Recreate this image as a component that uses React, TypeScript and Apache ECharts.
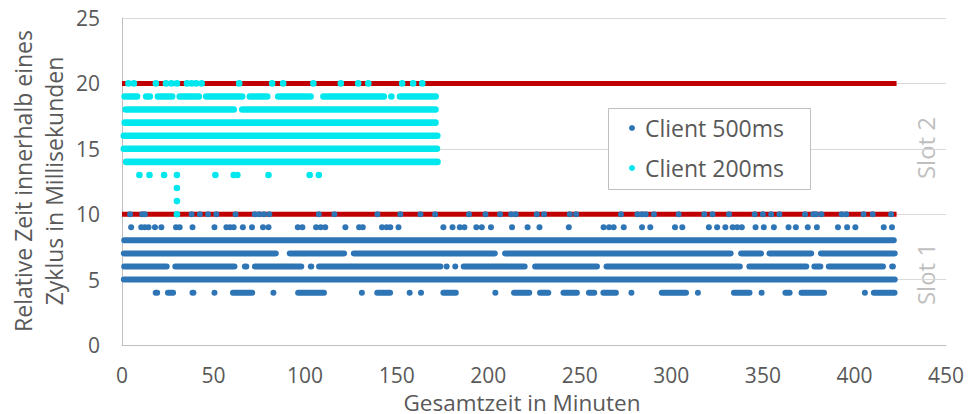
import { useEffect, useRef } from "react";
import * as echarts from "echarts";

// Runs of measurements per millisecond row: [first minute, last minute].
// A single measurement is a run whose start equals its end.
type Run = [number, number];

const FONT = "'Open Sans', 'Noto Sans', sans-serif";
const TEXT = "#595959";

// Client 500ms (slot 1)
const c500Row4: Run[] = [
  [18.4, 19.2], [25.1, 27.9], [38.5, 39], [50.5, 50.5], [60.6, 71.1], [82.7, 82.7],
  [96.2, 110.3], [131, 131], [139.4, 146.4], [157.1, 157.1], [163.3, 163.3], [175.5, 182.3],
  [203.9, 203.9], [214.1, 222.4], [228.3, 232.8], [241.1, 248.4], [255, 257.9], [262.9, 269.7],
  [278.2, 278.2], [294.8, 308], [314.5, 314.5], [334.2, 342.7], [349.3, 349.3], [362.3, 364.6],
  [371.1, 383.4], [405.7, 405.7], [410.6, 421.9],
];
const c500Row5: Run[] = [[1, 422]];
const c500Row6: Run[] = [
  [1.2, 24.4], [29.1, 61.4], [67.1, 67.9], [72.6, 97.9], [103.1, 103.4], [107.6, 173.9],
  [177.3, 177.3], [182, 182], [186.6, 219.9], [225.6, 259.4], [264.6, 337.4], [342.6, 373.7],
  [378.1, 381.4], [386, 415.6], [420.6, 421],
];
const c500Row7: Run[] = [
  [1, 84], [91.6, 121.3], [126.6, 203.6], [209.2, 332.4], [338.1, 349], [353.6, 376.4], [381.7, 422],
];
const c500Row8: Run[] = [[1.2, 421.5]];
const c500Row9: number[] = [
  5, 10.5, 12.5, 14.5, 18, 21.5, 29.5, 31.5, 38.5, 50.5, 57, 59, 61, 66, 71, 77, 80, 96, 98.5,
  106, 108.5, 111, 122, 129.5, 131.5, 142, 144.5, 146.5, 151, 175.5, 180.5, 184.5, 187, 193.5,
  196.5, 201.5, 213, 221.5, 228, 244, 263, 266, 268.5, 274, 284, 288.5, 302, 306, 320.5, 325,
  329.5, 333.5, 336, 338.5, 346, 350.5, 356, 364, 368, 374.5, 379.5, 391, 396, 400.5, 416, 420.5,
];
const c500Row10: number[] = [
  4.4, 11, 12.5, 38, 42.5, 47, 51.5, 62, 72.5, 75, 77.5, 80.5, 107.5, 116, 139.5, 152, 163, 171,
  189.5, 198.5, 206.5, 212.5, 215, 226.5, 230.5, 244.5, 248, 272.5, 281.5, 284, 286, 290.5, 304,
  318, 322.5, 331.5, 345.5, 350, 354.5, 359, 373, 377.5, 379, 382, 393, 395.5, 405, 410, 420,
];

// Client 200ms (slot 2)
const c200Row10: number[] = [30];
const c200Row11: number[] = [30];
const c200Row12: number[] = [30];
const c200Row13: number[] = [9.5, 15, 23, 30, 51, 61, 63, 80, 102.5, 107.5];
const c200Row14: Run[] = [[2.3, 172.3]];
const c200Row15: Run[] = [[1, 172]];
const c200Row16: Run[] = [[1, 172.2]];
const c200Row17: Run[] = [[1.5, 171.2]];
const c200Row18: Run[] = [[2, 61], [65.7, 171.2]];
const c200Row19: Run[] = [
  [1.4, 8.2], [13.2, 15.2], [19.6, 27.4], [31.5, 42], [46, 65.6], [69.8, 79.3], [85.3, 103],
  [110, 143], [147.1, 147.1], [151.8, 171.3],
];
const c200Row20: number[] = [
  3.5, 6.5, 18.5, 24, 27, 30, 35.5, 38, 40.5, 43.5, 64, 82, 88, 104.5, 119.5, 129, 134.5, 153, 159, 164,
];

// Slot boundaries (ms) and the time span they are drawn over (minutes)
const slotLimits = [10, 20];
const slotSpan: [number, number] = [0, 423];

const runs = (y: number, r: Run[]) => r.map(([a, b]) => [a, b, y]);
const dots = (y: number, xs: number[]) => xs.map((x) => [x, x, y]);

const client500Data = [
  ...runs(4, c500Row4), ...runs(5, c500Row5), ...runs(6, c500Row6), ...runs(7, c500Row7),
  ...runs(8, c500Row8), ...dots(9, c500Row9), ...dots(10, c500Row10),
];
const client200Data = [
  ...dots(10, c200Row10), ...dots(11, c200Row11), ...dots(12, c200Row12), ...dots(13, c200Row13),
  ...runs(14, c200Row14), ...runs(15, c200Row15), ...runs(16, c200Row16), ...runs(17, c200Row17),
  ...runs(18, c200Row18), ...runs(19, c200Row19), ...dots(20, c200Row20),
];

// Each run is a capsule of marker diameter, from its first to its last point.
const capsule = (radius: number) => (_params: any, api: any) => {
  const y = api.value(2);
  const p1 = api.coord([api.value(0), y]);
  const p2 = api.coord([api.value(1), y]);
  return {
    type: "rect",
    shape: {
      x: p1[0] - radius,
      y: p1[1] - radius,
      width: p2[0] - p1[0] + 2 * radius,
      height: 2 * radius,
      r: radius,
    },
    style: { fill: api.visual("color") },
  };
};

export default function App() {
  const ref = useRef<HTMLDivElement>(null);

  useEffect(() => {
    if (!ref.current) return;
    const chart = echarts.init(ref.current, undefined, { renderer: "svg" });

    const limitSeries = slotLimits.map((y) => ({
      type: "line",
      name: `limit${y}`,
      data: [[slotSpan[0], y], [slotSpan[1], y]],
      symbol: "none",
      silent: true,
      lineStyle: { color: "#C00000", width: 5 },
      z: 2,
    }));

    chart.setOption({
      animation: false,
      backgroundColor: "#ffffff",
      textStyle: { fontFamily: FONT },
      grid: { left: 122, right: 22, top: 18, bottom: 69 },
      xAxis: {
        type: "value",
        min: 0,
        max: 450,
        interval: 50,
        axisLine: { show: true, lineStyle: { color: "#bfbfbf", width: 1 } },
        axisTick: { show: false },
        splitLine: { show: false },
        axisLabel: { fontSize: 21, color: TEXT, fontFamily: FONT, margin: 19, lineHeight: 22 },
      },
      yAxis: {
        type: "value",
        min: 0,
        max: 25,
        interval: 5,
        axisLine: { show: true, lineStyle: { color: "#bfbfbf", width: 1 } },
        axisTick: { show: false },
        splitLine: { show: true, lineStyle: { color: "#d9d9d9", width: 1 } },
        axisLabel: { fontSize: 21, color: TEXT, fontFamily: FONT, margin: 22 },
      },
      legend: {
        data: [
          { name: "Client 500ms", icon: "circle" },
          { name: "Client 200ms", icon: "circle" },
        ],
        orient: "vertical",
        left: 629,
        top: 116,
        padding: 0,
        itemWidth: 16,
        itemHeight: 6,
        itemGap: 16,
        textStyle: { fontSize: 23, color: TEXT, fontFamily: FONT, lineHeight: 24 },
        z: 10,
      },
      graphic: [
        {
          type: "rect",
          shape: { x: 608.5, y: 108.5, width: 202, height: 81 },
          style: { fill: "#ffffff", stroke: "#bfbfbf", lineWidth: 1 },
          z: 5,
        },
        {
          type: "text",
          x: 38,
          y: 181,
          rotation: Math.PI / 2,
          style: {
            text: "Relative Zeit innerhalb eines\nZyklus in Millisekunden",
            fontSize: 23,
            fontFamily: FONT,
            fill: TEXT,
            align: "center",
            verticalAlign: "middle",
            lineHeight: 31,
          },
        },
        {
          type: "text",
          x: 522,
          y: 402,
          style: {
            text: "Gesamtzeit in Minuten",
            fontSize: 22.5,
            lineHeight: 22,
            fontFamily: FONT,
            fill: TEXT,
            align: "center",
            verticalAlign: "middle",
          },
        },
        {
          type: "text",
          x: 925,
          y: 148,
          rotation: Math.PI / 2,
          style: {
            text: "Slot 2",
            fontSize: 24,
            fontFamily: FONT,
            fill: "#bfbfbf",
            align: "center",
            verticalAlign: "middle",
          },
        },
        {
          type: "text",
          x: 925,
          y: 274,
          rotation: Math.PI / 2,
          style: {
            text: "Slot 1",
            fontSize: 24,
            fontFamily: FONT,
            fill: "#bfbfbf",
            align: "center",
            verticalAlign: "middle",
          },
        },
      ],
      series: [
        ...limitSeries,
        {
          type: "custom",
          name: "Client 500ms",
          renderItem: capsule(3),
          encode: { x: [0, 1], y: 2 },
          itemStyle: { color: "#2E75B6" },
          data: client500Data,
          z: 3,
        },
        {
          type: "custom",
          name: "Client 200ms",
          renderItem: capsule(3.3),
          encode: { x: [0, 1], y: 2 },
          itemStyle: { color: "#00E8EE" },
          data: client200Data,
          z: 4,
        },
      ],
    });

    return () => chart.dispose();
  }, []);

  return (
    <div
      ref={ref}
      style={{ position: "absolute", left: 0, top: 0, width: 968, height: 414 }}
    />
  );
}
